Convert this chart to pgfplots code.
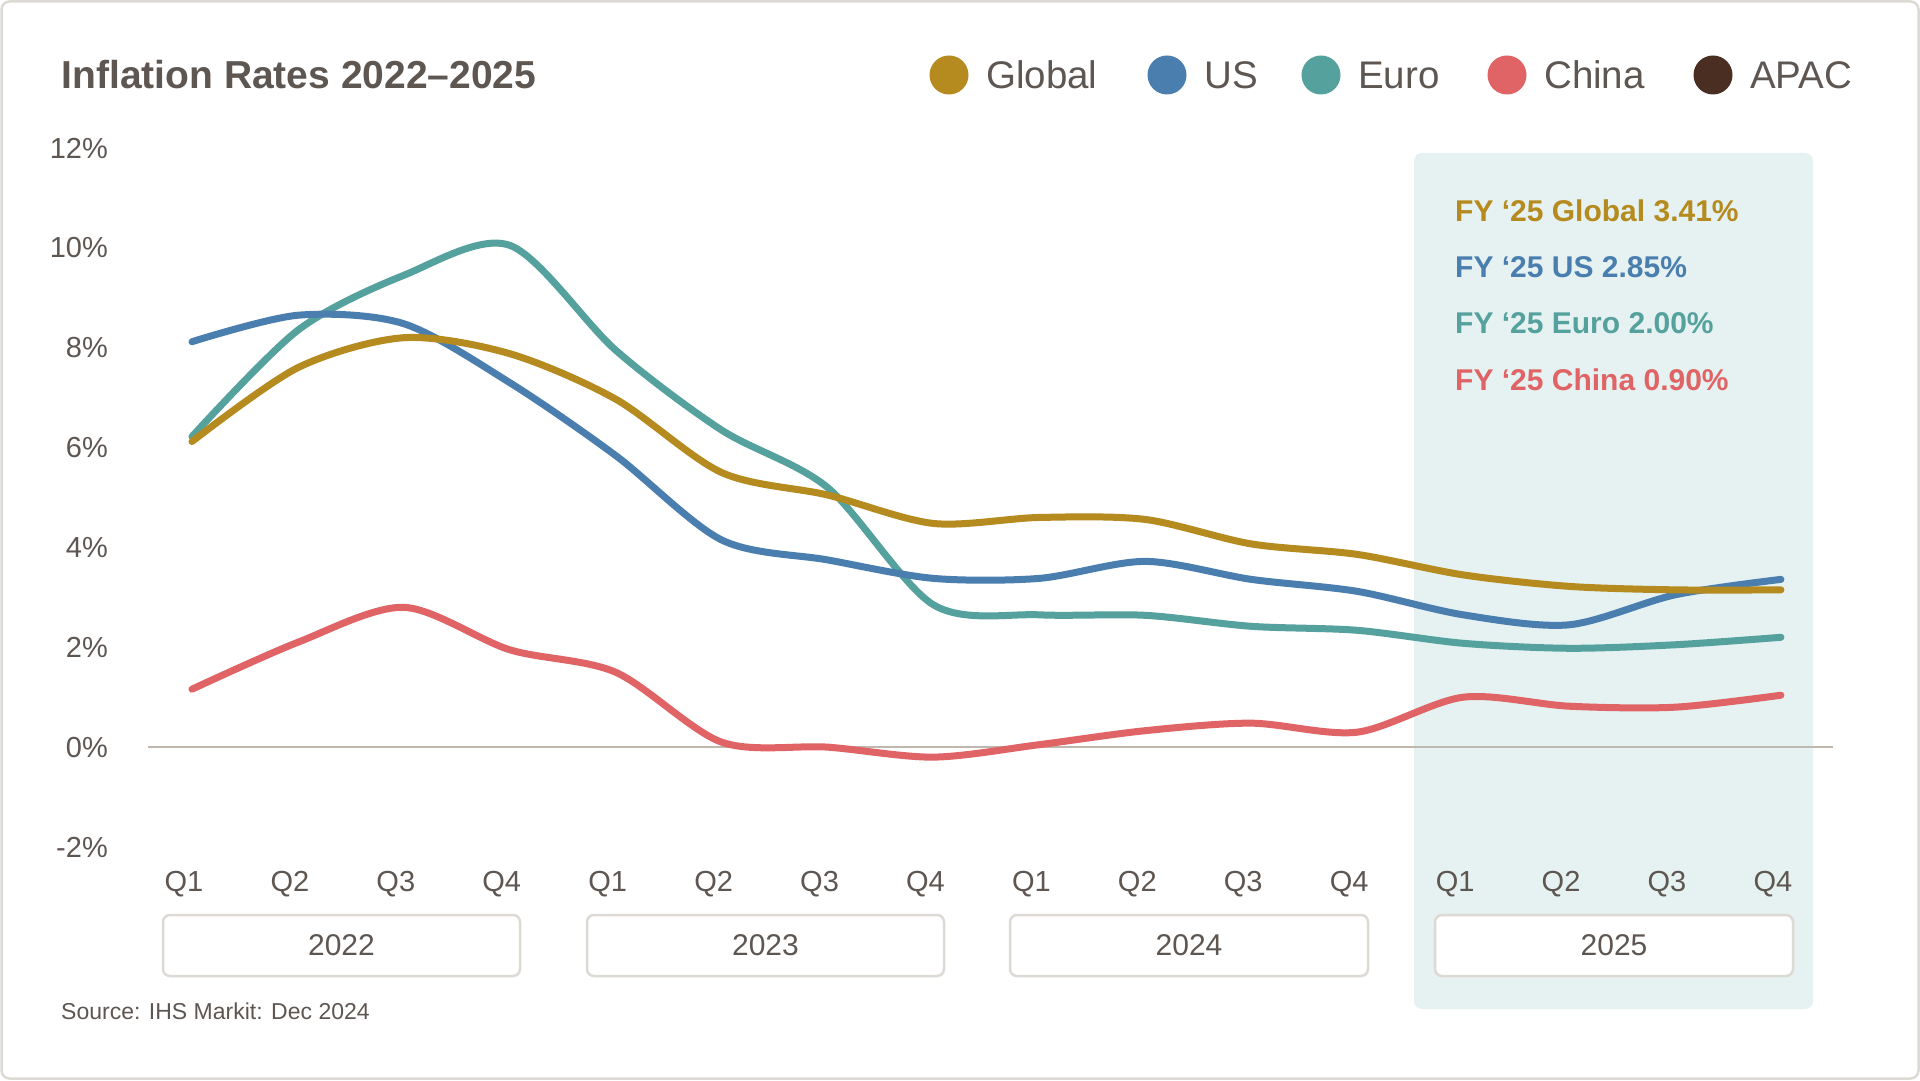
\documentclass[border=0pt]{standalone}
\usepackage{pgfplots}
\pgfplotsset{compat=1.18}
\usepackage{pgfplotstable}
\usepackage{fontspec}
\setmainfont{Liberation Sans}
\definecolor{cglobal}{HTML}{B58A1E}
\definecolor{cus}{HTML}{4A7EAF}
\definecolor{ceuro}{HTML}{55A19E}
\definecolor{cchina}{HTML}{E06466}
\definecolor{capac}{HTML}{4A2E22}
\definecolor{textc}{HTML}{5E5651}
\definecolor{zeroc}{HTML}{C0B8AE}
\definecolor{hlc}{HTML}{E5F2F1}
\definecolor{boxc}{HTML}{DDD9D4}

\pgfplotstableread{
x global us euro china
0 6.12 8.12 6.22 1.16
1 7.60 8.65 8.35 2.10
2 8.20 8.48 9.45 2.80
3 7.88 7.30 10.05 1.95
4 6.97 5.84 7.95 1.50
5 5.50 4.15 6.35 0.10
6 5.05 3.75 5.20 0.00
7 4.48 3.38 2.85 -0.20
8 4.60 3.38 2.65 0.05
9 4.56 3.72 2.64 0.33
10 4.07 3.36 2.42 0.48
11 3.86 3.12 2.34 0.30
12 3.45 2.65 2.08 1.00
13 3.22 2.45 1.98 0.82
14 3.15 3.05 2.05 0.80
15 3.15 3.36 2.20 1.04
}\datatable

\begin{document}
\begin{tikzpicture}[x=1pt,y=1pt]
% page
\fill[white] (0,0) rectangle (1920,1080);
\draw[boxc, line width=2.5pt, rounded corners=8pt] (1.5,1.5) rectangle (1918.5,1078.5);
% highlight
\fill[hlc, rounded corners=8pt] (1414,71) rectangle (1813,927);
% title
\node[anchor=west, text=textc, font=\fontsize{39}{42}\selectfont\bfseries] at (58,1005) {Inflation Rates 2022--2025};
% legend
\foreach \cx/\col/\lab in {949/cglobal/Global,1167/cus/US,1321/ceuro/Euro,1507/cchina/China,1713/capac/APAC}{
  \fill[\col] (\cx,1005) circle (19.5);
  \node[anchor=west, text=textc, font=\fontsize{38.5}{42}\selectfont, inner sep=0pt] at (\cx+37,1005) {\lab};
}
% annotations
\node[anchor=west, inner sep=0pt, text=cglobal, font=\fontsize{30}{33}\selectfont\bfseries] at (1455,869) {FY ‘25 Global 3.41\%};
\node[anchor=west, inner sep=0pt, text=cus, font=\fontsize{30}{33}\selectfont\bfseries] at (1455,813) {FY ‘25 US 2.85\%};
\node[anchor=west, inner sep=0pt, text=ceuro, font=\fontsize{30}{33}\selectfont\bfseries] at (1455,757) {FY ‘25 Euro 2.00\%};
\node[anchor=west, inner sep=0pt, text=cchina, font=\fontsize{30}{33}\selectfont\bfseries] at (1455,700) {FY ‘25 China 0.90\%};
% year boxes
\foreach \xa/\xb/\yr in {163/520/2022,587/944/2023,1010/1368/2024,1435/1793/2025}{
  \filldraw[fill=white, draw=boxc, line width=2.5pt, rounded corners=7pt] (\xa,104) rectangle (\xb,165);
  \node[text=textc, font=\fontsize{30}{33}\selectfont] at ({(\xa+\xb)/2},135) {\yr};
}
% source
\node[anchor=west, inner sep=0pt, text=textc, font=\fontsize{23}{26}\selectfont] at (61,69) {Source: IHS Markit: Dec 2024};

\begin{axis}[
  at={(148pt,233pt)}, anchor=south west,
  x=105.93pt, y=49.93pt,
  xmin=-0.415, xmax=15.49, ymin=-2, ymax=12,
  axis line style={draw=none},
  major tick length=0pt,
  clip=false,
  xtick={0,...,15},
  xticklabels={Q1,Q2,Q3,Q4,Q1,Q2,Q3,Q4,Q1,Q2,Q3,Q4,Q1,Q2,Q3,Q4},
  xticklabel style={anchor=base, yshift=-44pt, xshift=-8pt, text=textc, font=\fontsize{29}{32}\selectfont},
  ytick={-2,0,2,4,6,8,10,12},
  yticklabels={-2\%,0\%,2\%,4\%,6\%,8\%,10\%,12\%},
  yticklabel style={anchor=east, inner sep=0pt, xshift=-40pt, text=textc, font=\fontsize{29}{32}\selectfont},
  every axis plot/.append style={line width=7pt, line cap=round, line join=round, smooth, tension=0.5},
]
\draw[zeroc, line width=2pt] (axis cs:-0.415,0) -- (axis cs:15.49,0);
\addplot[cchina] table[x=x, y=china] {\datatable};
\addplot[ceuro] table[x=x, y=euro] {\datatable};
\addplot[cus] table[x=x, y=us] {\datatable};
\addplot[cglobal] table[x=x, y=global] {\datatable};
\end{axis}
\end{tikzpicture}
\end{document}
